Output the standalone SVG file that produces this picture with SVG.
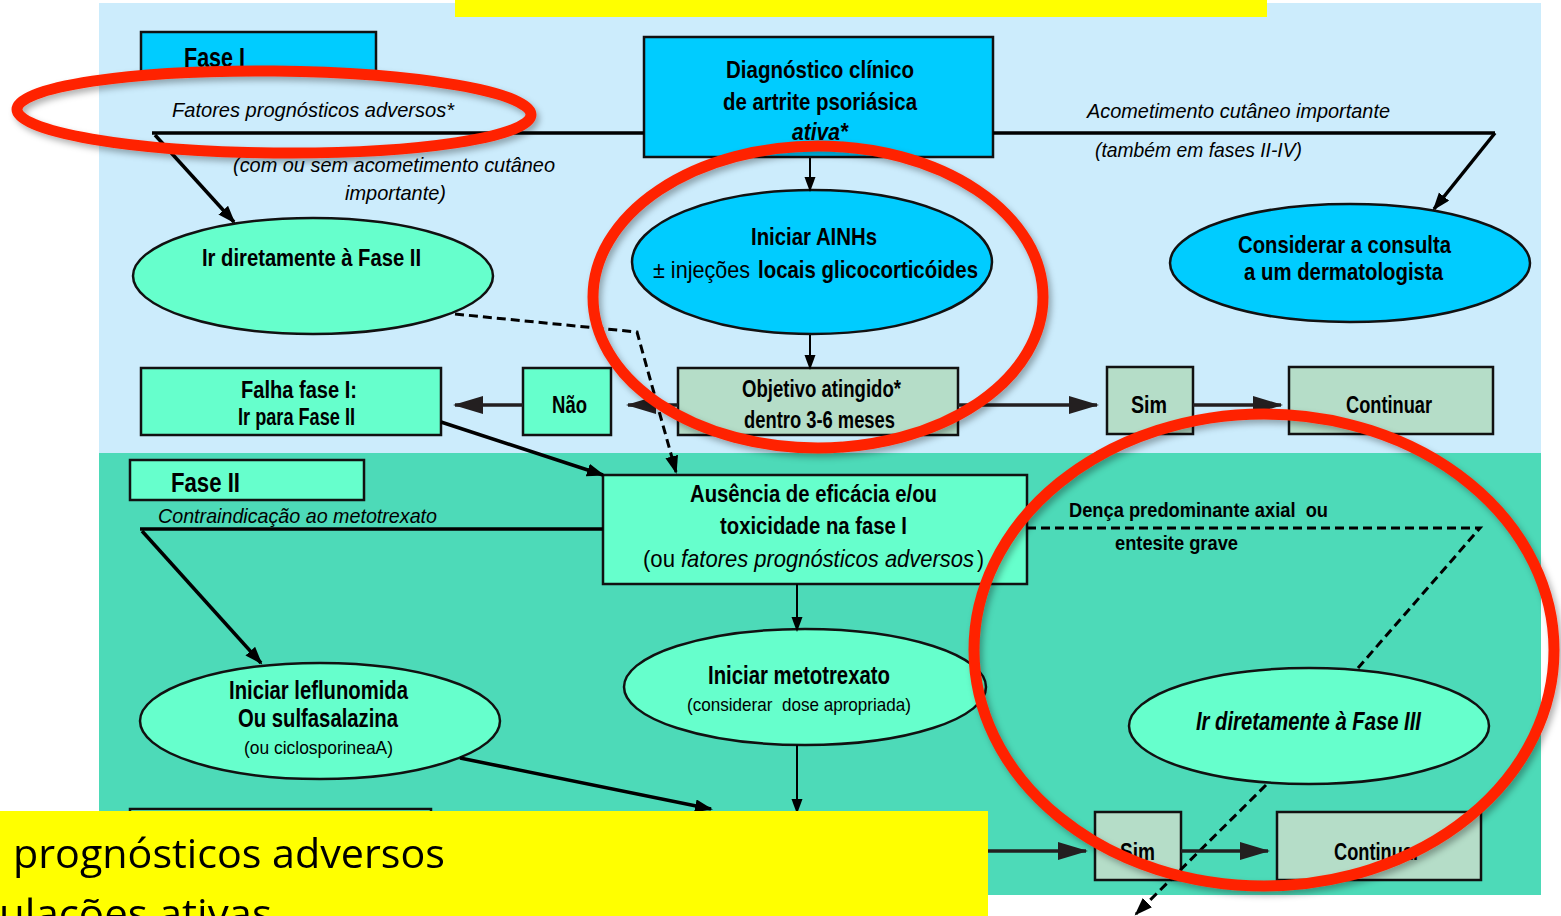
<svg xmlns="http://www.w3.org/2000/svg" width="1561" height="916" viewBox="0 0 1561 916">
<defs>
<style>
.t{font-family:'Liberation Sans Narrow','Liberation Sans',Arial,sans-serif;font-weight:bold;fill:#000;}
.i{font-style:italic;font-weight:normal;}
.bi{font-style:italic;}
.n{font-weight:normal;}
.box{stroke:#111;stroke-width:2.5;}
.cy{fill:#00CCFF;}
.mi{fill:#66FFCC;}
.pa{fill:#B5DDC8;}
.ln{stroke:#000;stroke-width:3.5;fill:none;}
.thin{stroke:#000;stroke-width:2;fill:none;}
.hz{stroke:#231F20;stroke-width:3.5;fill:none;}
.ds{stroke:#000;stroke-width:3;stroke-dasharray:9 5;fill:none;}
.red{fill:none;stroke:#FF2400;stroke-width:11;}
.y{font-family:'Open Sans','Noto Sans',sans-serif;font-size:40px;fill:#000;}
</style>
<marker id="big" markerUnits="userSpaceOnUse" markerWidth="32" markerHeight="20" refX="28" refY="9" orient="auto"><path d="M0,0 L30,9 L0,18 z" fill="#231F20"/></marker>
<marker id="mid" markerUnits="userSpaceOnUse" markerWidth="20" markerHeight="14" refX="16" refY="6.5" orient="auto"><path d="M0,0 L18,6.5 L0,13 z" fill="#000"/></marker>
<marker id="sm" markerUnits="userSpaceOnUse" markerWidth="16" markerHeight="12" refX="13" refY="5.5" orient="auto"><path d="M0,0 L15,5.5 L0,11 z" fill="#000"/></marker>
<filter id="sh" x="-10%" y="-10%" width="120%" height="120%"><feDropShadow dx="3" dy="4" stdDeviation="3" flood-color="#000" flood-opacity="0.3"/></filter>
</defs>
<rect width="1561" height="916" fill="#fff"/>
<g id="panels">
<rect x="99" y="3" width="1442" height="450" fill="#CCECFC"/>
<rect x="99" y="453" width="1442" height="442" fill="#4DDAB8"/>
</g>
<g id="fase1">
<rect class="box cy" x="141" y="32" width="235" height="40"/>
<text class="t" x="184" y="67" font-size="27" textLength="61" lengthAdjust="spacingAndGlyphs">Fase I</text>
</g>
<g id="diagnostico">
<rect class="box cy" x="644" y="37" width="349" height="120"/>
<text class="t" x="726" y="78" font-size="24" textLength="188" lengthAdjust="spacingAndGlyphs">Diagnóstico clínico</text>
<text class="t" x="723" y="110" font-size="24" textLength="194" lengthAdjust="spacingAndGlyphs">de artrite psoriásica</text>
<text class="t bi" x="792" y="140" font-size="24" textLength="56" lengthAdjust="spacingAndGlyphs">ativa*</text>
</g>
<g id="labels-top">
<text class="t i" x="172" y="117" font-size="21" textLength="282" lengthAdjust="spacingAndGlyphs">Fatores prognósticos  adversos*</text>
<text class="t i" x="233" y="172" font-size="21" textLength="322" lengthAdjust="spacingAndGlyphs">(com ou sem acometimento cutâneo</text>
<text class="t i" x="345" y="200" font-size="21" textLength="101" lengthAdjust="spacingAndGlyphs">importante)</text>
<text class="t i" x="1087" y="118" font-size="21" textLength="303" lengthAdjust="spacingAndGlyphs">Acometimento cutâneo importante</text>
<text class="t i" x="1095" y="157" font-size="21" textLength="207" lengthAdjust="spacingAndGlyphs">(também em fases II-IV)</text>
</g>
<g id="ir-fase2">
<ellipse class="box mi" cx="313" cy="276" rx="180" ry="58"/>
<text class="t" x="202" y="266" font-size="24" textLength="219" lengthAdjust="spacingAndGlyphs">Ir diretamente à Fase II</text>
</g>
<g id="ainhs">
<ellipse class="box cy" cx="812" cy="262" rx="180" ry="72"/>
<text class="t" x="751" y="245" font-size="24" textLength="126" lengthAdjust="spacingAndGlyphs">Iniciar AINHs</text>
<text class="t n" x="653" y="278" font-size="24" textLength="97" lengthAdjust="spacingAndGlyphs">± injeções</text>
<text class="t" x="758" y="278" font-size="24" textLength="220" lengthAdjust="spacingAndGlyphs">locais glicocorticóides</text>
</g>
<g id="dermatologista">
<ellipse class="box cy" cx="1350" cy="263" rx="180" ry="59"/>
<text class="t" x="1238" y="253" font-size="24" textLength="213" lengthAdjust="spacingAndGlyphs">Considerar a consulta</text>
<text class="t" x="1244" y="280" font-size="24" textLength="199" lengthAdjust="spacingAndGlyphs">a um dermatologista</text>
</g>
<g id="falha">
<rect class="box mi" x="141" y="368" width="300" height="67"/>
<text class="t" x="241" y="398" font-size="23" textLength="116" lengthAdjust="spacingAndGlyphs">Falha fase I:</text>
<text class="t" x="238" y="425" font-size="23" textLength="117" lengthAdjust="spacingAndGlyphs">Ir para Fase II</text>
</g>
<g id="nao">
<rect class="box mi" x="523" y="368" width="88" height="67"/>
<text class="t" x="552" y="413" font-size="24" textLength="35" lengthAdjust="spacingAndGlyphs">Não</text>
</g>
<g id="objetivo">
<rect class="box pa" x="678" y="368" width="280" height="67"/>
<text class="t" x="742" y="397" font-size="23" textLength="159" lengthAdjust="spacingAndGlyphs">Objetivo atingido*</text>
<text class="t" x="744" y="428" font-size="23" textLength="151" lengthAdjust="spacingAndGlyphs">dentro 3-6 meses</text>
</g>
<g id="sim1">
<rect class="box pa" x="1107" y="367" width="86" height="67"/>
<text class="t" x="1131" y="413" font-size="24" textLength="36" lengthAdjust="spacingAndGlyphs">Sim</text>
</g>
<g id="continuar1">
<rect class="box pa" x="1289" y="367" width="204" height="67"/>
<text class="t" x="1346" y="413" font-size="24" textLength="86" lengthAdjust="spacingAndGlyphs">Continuar</text>
</g>
<g id="fase2">
<rect class="box mi" x="130" y="460" width="234" height="40"/>
<text class="t" x="171" y="492" font-size="27" textLength="69" lengthAdjust="spacingAndGlyphs">Fase II</text>
</g>
<g id="labels-mid">
<text class="t i" x="158" y="523" font-size="21" textLength="279" lengthAdjust="spacingAndGlyphs">Contraindicação ao metotrexato</text>
<text class="t" x="1069" y="517" font-size="21" textLength="259" lengthAdjust="spacingAndGlyphs" style="white-space:pre">Dença predominante axial  ou</text>
<text class="t" x="1115" y="550" font-size="21" textLength="123" lengthAdjust="spacingAndGlyphs">entesite grave</text>
</g>
<g id="ausencia">
<rect class="box mi" x="603" y="475" width="424" height="109"/>
<text class="t" x="690" y="502" font-size="24" textLength="247" lengthAdjust="spacingAndGlyphs">Ausência de eficácia e/ou</text>
<text class="t" x="720" y="534" font-size="24" textLength="187" lengthAdjust="spacingAndGlyphs">toxicidade na fase I</text>
<text class="t n" x="643" y="567" font-size="24" textLength="32" lengthAdjust="spacingAndGlyphs">(ou</text>
<text class="t i" x="681" y="567" font-size="24" textLength="293" lengthAdjust="spacingAndGlyphs">fatores prognósticos adversos</text>
<text class="t n" x="977" y="567" font-size="24" textLength="7" lengthAdjust="spacingAndGlyphs">)</text>
</g>
<g id="metotrexato">
<ellipse class="box mi" cx="805" cy="687" rx="181" ry="58"/>
<text class="t" x="708" y="684" font-size="25" textLength="182" lengthAdjust="spacingAndGlyphs">Iniciar metotrexato</text>
<text class="t n" x="687" y="711" font-size="19" textLength="224" lengthAdjust="spacingAndGlyphs" style="white-space:pre">(considerar  dose apropriada)</text>
</g>
<g id="leflunomida">
<ellipse class="box mi" cx="320" cy="721" rx="180" ry="58"/>
<text class="t" x="229" y="699" font-size="25" textLength="179" lengthAdjust="spacingAndGlyphs">Iniciar leflunomida</text>
<text class="t" x="238" y="727" font-size="25" textLength="160" lengthAdjust="spacingAndGlyphs">Ou sulfasalazina</text>
<text class="t n" x="244" y="754" font-size="19" textLength="149" lengthAdjust="spacingAndGlyphs">(ou ciclosporineaA)</text>
</g>
<g id="ir-fase3">
<ellipse class="box mi" cx="1309" cy="726" rx="180" ry="58"/>
<text class="t bi" x="1196" y="730" font-size="25" textLength="225" lengthAdjust="spacingAndGlyphs">Ir diretamente à Fase III</text>
</g>
<g id="fase3">
<rect class="box mi" x="130" y="809" width="301" height="50"/>
</g>
<g id="sim2">
<rect class="box pa" x="1095" y="812" width="86" height="68"/>
<text class="t" x="1120" y="860" font-size="24" textLength="35" lengthAdjust="spacingAndGlyphs">Sim</text>
</g>
<g id="continuar2">
<rect class="box pa" x="1277" y="812" width="204" height="68"/>
<text class="t" x="1334" y="860" font-size="24" textLength="86" lengthAdjust="spacingAndGlyphs">Continuar</text>
</g>
<g id="connectors">
<path class="ln" d="M152,133 H644"/>
<line class="ln" x1="155" y1="135" x2="234" y2="222" marker-end="url(#mid)"/>
<path class="ln" d="M993,133 H1495"/>
<line class="ln" x1="1495" y1="133" x2="1434" y2="209" marker-end="url(#mid)"/>
<line class="thin" x1="810" y1="158" x2="810" y2="190" marker-end="url(#sm)"/>
<line class="thin" x1="810" y1="335" x2="810" y2="368" marker-end="url(#sm)"/>
<line class="hz" x1="678" y1="405" x2="628" y2="405" marker-end="url(#big)"/>
<line class="hz" x1="523" y1="405" x2="455" y2="405" marker-end="url(#big)"/>
<line class="hz" x1="958" y1="405" x2="1097" y2="405" marker-end="url(#big)"/>
<line class="hz" x1="1193" y1="405" x2="1281" y2="405" marker-end="url(#big)"/>
<path class="ds" d="M455,314 L637,332 L676,472" marker-end="url(#mid)"/>
<line class="ln" x1="441" y1="422" x2="603" y2="475" marker-end="url(#mid)"/>
<path class="ln" d="M140,529 H603"/>
<line class="ln" x1="142" y1="531" x2="261" y2="663" marker-end="url(#mid)"/>
<line class="thin" x1="797" y1="584" x2="797" y2="630" marker-end="url(#sm)"/>
<line class="thin" x1="797" y1="745" x2="797" y2="812" marker-end="url(#sm)"/>
<line class="ln" x1="460" y1="758" x2="711" y2="809" marker-end="url(#mid)"/>
<path class="ds" d="M1027,528 H1480 L1358,668"/>
<line class="ds" x1="1266" y1="785" x2="1136" y2="914" marker-end="url(#mid)"/>
<line class="hz" x1="988" y1="851" x2="1086" y2="851" marker-end="url(#big)"/>
<line class="hz" x1="1181" y1="851" x2="1268" y2="851" marker-end="url(#big)"/>
</g>
<g id="annotations" filter="url(#sh)">
<ellipse class="red" cx="274" cy="112" rx="257" ry="41" transform="rotate(0.6 274 112)"/>
<ellipse class="red" cx="818" cy="297" rx="225" ry="151"/>
<ellipse class="red" cx="1264" cy="650" rx="290" ry="236"/>
</g>
<g id="yellow">
<rect x="455" y="0" width="812" height="17" fill="#FFFF00"/>
<rect x="0" y="811" width="988" height="105" fill="#FFFF00"/>
<text class="y" x="13" y="868" textLength="432" lengthAdjust="spacingAndGlyphs">prognósticos adversos</text>
<text class="y" x="-1" y="928" textLength="273" lengthAdjust="spacingAndGlyphs">ulações ativas</text>
</g>
</svg>
